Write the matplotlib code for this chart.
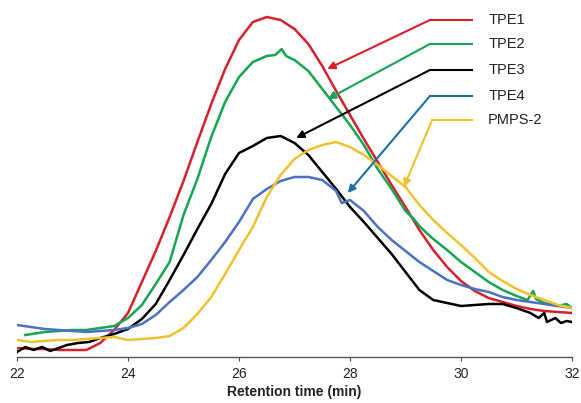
import matplotlib
matplotlib.use("Agg")
import matplotlib.pyplot as plt
import numpy as np

plt.rcParams['font.family'] = ['Liberation Sans', 'DejaVu Sans']

# retention time grid (min)
t = np.arange(22.0, 32.01, 0.25)

# detector signal (arbitrary units)
tpe1 = [9, 8, 8, 7, 7, 7, 14, 27, 44, 75, 106, 140, 176, 215, 253, 288, 317, 335, 340,
        337, 328, 313, 291, 266, 242, 218, 195, 172, 150, 127, 107, 90, 76, 66, 59, 55,
        51, 48, 46, 45, 44]
tpe2_t = [22.15, 22.5, 22.75, 23.0, 23.25, 23.5, 23.75, 24.0, 24.25, 24.5, 24.75, 25.0,
          25.25, 25.5, 25.75, 26.0, 26.25, 26.5, 26.65, 26.77, 26.85, 27.0, 27.25, 27.5,
          27.75, 28.0, 28.25, 28.5, 28.75, 29.0, 29.15, 29.25, 29.4, 29.5, 29.75, 30.0,
          30.25, 30.5, 30.75, 31.0, 31.2, 31.3, 31.35, 31.5, 31.75, 31.9, 32.0]
tpe2 = [22, 25, 26, 27, 27, 29, 31, 39, 52, 73, 95, 142, 178, 220, 255, 280, 295, 301, 302,
        308, 301, 297, 286, 268, 250, 232, 212, 188, 168, 146, 138, 131, 123, 118, 107, 95,
        85, 75, 67, 61, 57, 66, 58, 54, 51, 53, 49]
tpe3_t = [22.0, 22.15, 22.3, 22.45, 22.6, 22.75, 22.9, 23.1, 23.3, 23.5, 23.75, 24.0, 24.25,
          24.5, 24.75, 25.0, 25.25, 25.5, 25.75, 26.0, 26.25, 26.5, 26.75, 27.0, 27.25,
          27.5, 27.75, 28.0, 28.25, 28.5, 28.75, 29.0, 29.25, 29.5, 29.75, 30.0, 30.25,
          30.5, 30.75, 31.0, 31.25, 31.4, 31.5, 31.55, 31.7, 31.8, 31.9, 32.0]
tpe3 = [5, 10, 7, 10, 6, 9, 12, 14, 15, 19, 23, 28, 38, 53, 77, 102, 128, 153, 183, 204,
        211, 219, 221, 214, 202, 185, 168, 150, 135, 119, 103, 85, 67, 57, 54, 51, 52, 53,
        53, 49, 44, 39, 44, 35, 39, 34, 36, 35]
tpe4_t = [22.0, 22.25, 22.5, 22.75, 23.0, 23.25, 23.5, 23.75, 24.0, 24.25, 24.5, 24.75,
          25.0, 25.25, 25.5, 25.75, 26.0, 26.25, 26.5, 26.75, 27.0, 27.25, 27.5, 27.75,
          27.85, 28.0, 28.25, 28.5, 28.75, 29.0, 29.25, 29.5, 29.75, 30.0, 30.25, 30.5,
          30.75, 31.0, 31.25, 31.5, 31.75, 32.0]
tpe4 = [32, 30, 28, 27, 26, 25, 26, 27, 29, 33, 42, 55, 67, 80, 97, 115, 135, 158, 168, 176,
        180, 180, 177, 166, 154, 157, 146, 130, 117, 106, 95, 86, 77, 72, 68, 65, 60, 57,
        55, 53, 51, 49]
pmps2 = [17, 15, 16, 17, 17, 18, 19, 20, 17, 18, 19, 21, 29, 43, 60, 83, 107, 130, 160, 182,
         198, 207, 212, 215, 210, 202, 192, 181, 170, 152, 137, 124, 112, 99, 85, 76, 68,
         62, 57, 52, 49]

labels = ['TPE1', 'TPE2', 'TPE3', 'TPE4', 'PMPS-2']
curve_colors = ['#d7202a', '#16a550', '#000000', '#4a72c2', '#f2c12e']
legend_colors = ['#d7202a', '#16a550', '#000000', '#1f70a8', '#f2c12e']

# label lines: start of horizontal stub, y level, arrow tip on the curve
stub_x0 = [29.44, 29.44, 29.44, 29.44, 29.48]
stub_x1 = 30.2
stub_y = [337, 313, 287, 261, 237]
tip_x = [27.59, 27.6, 27.03, 27.96, 28.97]
tip_y = [288, 258, 219, 164, 170]

fig = plt.figure(figsize=(5.81, 4.03), dpi=100)
ax = fig.add_axes([17 / 581, 46 / 403, 555 / 581, 357 / 403])

series = [(t, tpe1), (tpe2_t, tpe2), (tpe3_t, tpe3), (tpe4_t, tpe4), (t, pmps2)]
for (x, y), c in zip(series, curve_colors):
    ax.plot(x, y, color=c, lw=1.8, solid_joinstyle='round')

for i in range(len(labels)):
    c = legend_colors[i]
    ax.plot([stub_x0[i], stub_x1], [stub_y[i], stub_y[i]], color=c, lw=1.5, clip_on=False)
    ax.annotate('', xy=(tip_x[i], tip_y[i]), xytext=(stub_x0[i], stub_y[i]),
                arrowprops=dict(arrowstyle='-|>', color=c, lw=1.5, mutation_scale=11,
                                shrinkA=0, shrinkB=0))
    ax.text(30.49, stub_y[i], labels[i], fontsize=10.5, color='#222222', va='center')

ax.set_xlim(22, 32)
ax.set_ylim(0, 357)
ax.set_xticks([22, 24, 26, 28, 30, 32])
ax.set_yticks([])
for s in ['left', 'right', 'top']:
    ax.spines[s].set_visible(False)
ax.spines['bottom'].set_color('#555555')
ax.spines['bottom'].set_linewidth(1.0)
ax.tick_params(axis='x', direction='out', length=3, color='#555555', labelsize=10,
               labelcolor='#222222', pad=4)
ax.set_xlabel('Retention time (min)', fontsize=10, fontweight='bold', color='#222222',
              labelpad=3)

fig.savefig('out.png', dpi=100)
